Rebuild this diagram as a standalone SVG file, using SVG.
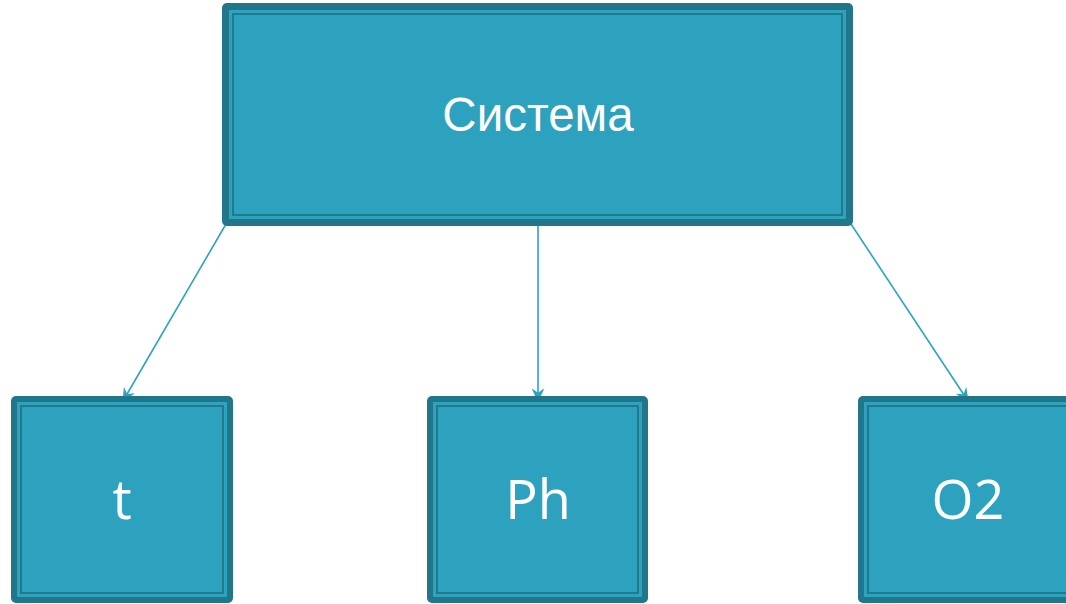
<svg xmlns="http://www.w3.org/2000/svg" width="1066" height="604" viewBox="0 0 1066 604">
<defs>
<style>
.outer{fill:#217789}
.stripe{fill:#2da3bf}
.line{fill:#2ca2be;stroke:#23798c;stroke-width:2}
.lbl{fill:#ffffff;text-anchor:middle}
.conn{stroke:#2ca3bf;stroke-width:1.6;fill:none}
</style>
<marker id="ah" markerUnits="userSpaceOnUse" markerWidth="14" markerHeight="14" viewBox="0 0 12 12" refX="11" refY="6" orient="auto">
<path d="M0,0.5 L12,6 L0,11.5 L4,6 Z" fill="#2ca3bf"/>
</marker>
</defs>
<g id="connectors">
<line class="conn" x1="226" y1="224" x2="123" y2="401" marker-end="url(#ah)"/>
<line class="conn" x1="538" y1="220" x2="538" y2="401" marker-end="url(#ah)"/>
<line class="conn" x1="849" y1="221" x2="968" y2="401" marker-end="url(#ah)"/>
</g>
<g id="node-system">
<rect class="outer" x="222" y="3" width="631" height="223" rx="5"/>
<rect class="stripe" x="229" y="10" width="617" height="209"/>
<rect class="line" x="233" y="14" width="609" height="201"/>
<text class="lbl" x="538" y="131" font-family="'Liberation Sans', Arial, sans-serif" font-size="47.5">Система</text>
</g>
<g id="node-t">
<rect class="outer" x="11" y="396" width="222" height="207" rx="5"/>
<rect class="stripe" x="17" y="402" width="210" height="195"/>
<rect class="line" x="21" y="406" width="202" height="187"/>
<text class="lbl" x="122" y="519" font-family="'Open Sans', 'Noto Sans', sans-serif" font-size="54">t</text>
</g>
<g id="node-ph">
<rect class="outer" x="427" y="396" width="221" height="207" rx="5"/>
<rect class="stripe" x="433" y="402" width="209" height="195"/>
<rect class="line" x="437" y="406" width="201" height="187"/>
<text class="lbl" x="538" y="519" font-family="'Open Sans', 'Noto Sans', sans-serif" font-size="54">Ph</text>
</g>
<g id="node-o2">
<rect class="outer" x="858" y="396" width="221" height="207" rx="5"/>
<rect class="stripe" x="864" y="402" width="209" height="195"/>
<rect class="line" x="868" y="406" width="201" height="187"/>
<text class="lbl" x="968" y="519" font-family="'Open Sans', 'Noto Sans', sans-serif" font-size="54">O2</text>
</g>
</svg>
